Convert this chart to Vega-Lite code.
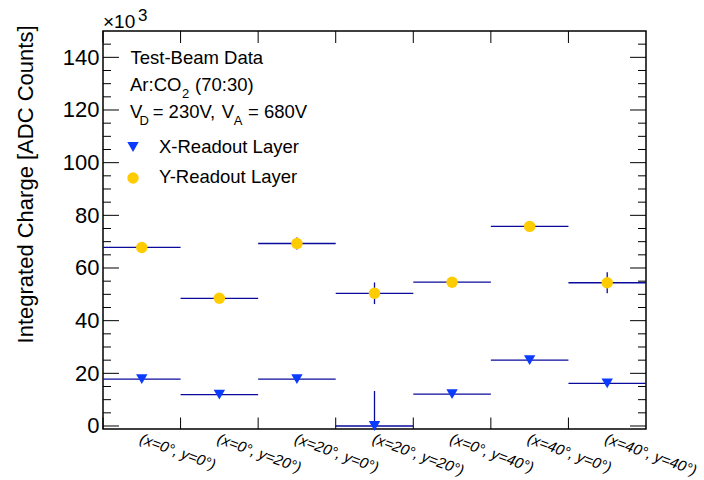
{
  "$schema": "https://vega.github.io/schema/vega-lite/v6.json",
  "width": 543,
  "height": 398,
  "autosize": {"type": "none"},
  "padding": {"left": 103, "top": 31, "right": 58, "bottom": 51},
  "background": "white",
  "config": {
    "font": "Liberation Sans",
    "view": {"stroke": "#000", "strokeWidth": 1.5},
    "axis": {"grid": false, "domain": false, "ticks": false},
    "axisY": {"labelFontSize": 22, "labelColor": "#000", "titleFontSize": 22, "titleColor": "#000", "titleFontWeight": "normal"},
    "axisX": {"labelFontSize": 15, "labelColor": "#000", "labelFontStyle": "italic"}
  },
  "datasets": {
    "charge": [
      {"config": "(x=0°, y=0°)", "layer": "X-Readout Layer", "charge": 17.8, "lo": 16.8, "hi": 18.8},
      {"config": "(x=0°, y=0°)", "layer": "Y-Readout Layer", "charge": 67.8, "lo": 66.6, "hi": 69.0},
      {"config": "(x=0°, y=20°)", "layer": "X-Readout Layer", "charge": 11.9, "lo": 10.9, "hi": 12.9},
      {"config": "(x=0°, y=20°)", "layer": "Y-Readout Layer", "charge": 48.5, "lo": 47.5, "hi": 49.5},
      {"config": "(x=20°, y=0°)", "layer": "X-Readout Layer", "charge": 17.8, "lo": 16.8, "hi": 18.8},
      {"config": "(x=20°, y=0°)", "layer": "Y-Readout Layer", "charge": 69.3, "lo": 67.0, "hi": 71.6},
      {"config": "(x=20°, y=20°)", "layer": "X-Readout Layer", "charge": 0.0, "lo": -13.3, "hi": 13.3},
      {"config": "(x=20°, y=20°)", "layer": "Y-Readout Layer", "charge": 50.4, "lo": 46.3, "hi": 54.5},
      {"config": "(x=0°, y=40°)", "layer": "X-Readout Layer", "charge": 12.1, "lo": 11.1, "hi": 13.1},
      {"config": "(x=0°, y=40°)", "layer": "Y-Readout Layer", "charge": 54.6, "lo": 53.4, "hi": 55.8},
      {"config": "(x=40°, y=0°)", "layer": "X-Readout Layer", "charge": 25.0, "lo": 24.0, "hi": 26.0},
      {"config": "(x=40°, y=0°)", "layer": "Y-Readout Layer", "charge": 75.8, "lo": 74.3, "hi": 77.3},
      {"config": "(x=40°, y=40°)", "layer": "X-Readout Layer", "charge": 16.2, "lo": 15.2, "hi": 17.2},
      {"config": "(x=40°, y=40°)", "layer": "Y-Readout Layer", "charge": 54.4, "lo": 50.4, "hi": 58.4}
    ],
    "ymajor": [{"v": 0}, {"v": 20}, {"v": 40}, {"v": 60}, {"v": 80}, {"v": 100}, {"v": 120}, {"v": 140}],
    "yminor": [{"v": 5}, {"v": 10}, {"v": 15}, {"v": 25}, {"v": 30}, {"v": 35}, {"v": 45}, {"v": 50}, {"v": 55}, {"v": 65}, {"v": 70}, {"v": 75}, {"v": 85}, {"v": 90}, {"v": 95}, {"v": 105}, {"v": 110}, {"v": 115}, {"v": 125}, {"v": 130}, {"v": 135}, {"v": 145}],
    "one": [{"n": 1}]
  },
  "layer": [
    {
      "data": {"name": "charge"},
      "mark": {"type": "rule", "color": "#0a0a9c", "strokeWidth": 1.3},
      "encoding": {
        "x": {"field": "config", "type": "nominal", "bandPosition": 0,
          "scale": {"type": "band", "domain": ["(x=0°, y=0°)", "(x=0°, y=20°)", "(x=20°, y=0°)", "(x=20°, y=20°)", "(x=0°, y=40°)", "(x=40°, y=0°)", "(x=40°, y=40°)"], "paddingInner": 0, "paddingOuter": 0},
          "axis": {"orient": "bottom", "ticks": false, "bandPosition": 0.5, "labelAngle": 20, "labelAlign": "left", "labelBaseline": "top", "labelPadding": 2, "labelOffset": 1, "labelFontSize": 15, "labelFontStyle": "italic", "labelColor": "#000", "labelOverlap": false, "labelBound": false, "labelFlush": false, "labelLimit": 0, "title": null}},
        "x2": {"field": "config", "bandPosition": 1},
        "y": {"field": "charge", "type": "quantitative",
          "scale": {"domain": [-1.14, 150], "nice": false, "zero": false},
          "axis": {"orient": "left", "values": [0, 20, 40, 60, 80, 100, 120, 140], "ticks": false, "labelFontSize": 22, "labelPadding": 4, "labelColor": "#000",
            "title": "Integrated Charge [ADC Counts]", "titleFontSize": 22, "titleFontWeight": "normal", "titleColor": "#000", "titleAngle": -90, "titleAlign": "right", "titleBaseline": "alphabetic", "titleX": -71, "titleY": -6}}
      }
    },
    {
      "data": {"name": "charge"},
      "mark": {"type": "rule", "color": "#0a0a9c", "strokeWidth": 1.3, "clip": true},
      "encoding": {
        "x": {"field": "config", "type": "nominal"},
        "y": {"field": "lo", "type": "quantitative"},
        "y2": {"field": "hi"}
      }
    },
    {
      "data": {"name": "charge"},
      "mark": {"type": "point", "filled": true, "opacity": 1, "size": 130, "strokeWidth": 0},
      "encoding": {
        "x": {"field": "config", "type": "nominal"},
        "y": {"field": "charge", "type": "quantitative"},
        "color": {"field": "layer", "type": "nominal", "scale": {"domain": ["X-Readout Layer", "Y-Readout Layer"], "range": ["#0a3bff", "#ffcc00"]}, "legend": null},
        "shape": {"field": "layer", "type": "nominal", "scale": {"domain": ["X-Readout Layer", "Y-Readout Layer"], "range": ["triangle-down", "circle"]}, "legend": null}
      }
    },
    {
      "data": {"name": "ymajor"},
      "mark": {"type": "rule", "color": "#000", "strokeWidth": 1},
      "encoding": {
        "x": {"datum": "(x=0°, y=0°)", "type": "nominal", "bandPosition": 0},
        "x2": {"datum": "(x=0°, y=0°)", "bandPosition": 0.206},
        "y": {"field": "v", "type": "quantitative"}
      }
    },
    {
      "data": {"name": "yminor"},
      "mark": {"type": "rule", "color": "#000", "strokeWidth": 1},
      "encoding": {
        "x": {"datum": "(x=0°, y=0°)", "type": "nominal", "bandPosition": 0},
        "x2": {"datum": "(x=0°, y=0°)", "bandPosition": 0.103},
        "y": {"field": "v", "type": "quantitative"}
      }
    },
    {
      "data": {"name": "ymajor"},
      "mark": {"type": "rule", "color": "#000", "strokeWidth": 1},
      "encoding": {
        "x": {"datum": "(x=40°, y=40°)", "type": "nominal", "bandPosition": 0.794},
        "x2": {"datum": "(x=40°, y=40°)", "bandPosition": 1},
        "y": {"field": "v", "type": "quantitative"}
      }
    },
    {
      "data": {"name": "yminor"},
      "mark": {"type": "rule", "color": "#000", "strokeWidth": 1},
      "encoding": {
        "x": {"datum": "(x=40°, y=40°)", "type": "nominal", "bandPosition": 0.897},
        "x2": {"datum": "(x=40°, y=40°)", "bandPosition": 1},
        "y": {"field": "v", "type": "quantitative"}
      }
    },
    {
      "data": {"name": "charge"},
      "transform": [{"filter": "datum.layer === 'X-Readout Layer'"}],
      "mark": {"type": "rule", "color": "#000", "strokeWidth": 1},
      "encoding": {
        "x": {"field": "config", "type": "nominal", "bandPosition": 0},
        "y": {"datum": -1.14, "type": "quantitative"},
        "y2": {"datum": 3.23}
      }
    },
    {
      "data": {"name": "charge"},
      "transform": [{"filter": "datum.layer === 'X-Readout Layer'"}],
      "mark": {"type": "rule", "color": "#000", "strokeWidth": 1},
      "encoding": {
        "x": {"field": "config", "type": "nominal", "bandPosition": 0},
        "y": {"datum": 145.44, "type": "quantitative"},
        "y2": {"datum": 150}
      }
    },
    {
      "data": {"name": "one"},
      "mark": {"type": "text", "text": "Test-Beam Data", "align": "left", "baseline": "alphabetic", "fontSize": 18.5, "font": "Liberation Sans", "color": "#000"},
      "encoding": {
        "x": {"datum": "(x=0°, y=0°)", "type": "nominal", "bandPosition": 0.3545},
        "y": {"datum": 137.49, "type": "quantitative"}
      }
    },
    {
      "data": {"name": "one"},
      "mark": {"type": "text", "text": "Ar:CO", "align": "left", "baseline": "alphabetic", "fontSize": 18.5, "font": "Liberation Sans", "color": "#000"},
      "encoding": {
        "x": {"datum": "(x=0°, y=0°)", "type": "nominal", "bandPosition": 0.348},
        "y": {"datum": 127.23, "type": "quantitative"}
      }
    },
    {
      "data": {"name": "one"},
      "mark": {"type": "text", "text": "2", "align": "left", "baseline": "alphabetic", "fontSize": 13, "font": "Liberation Sans", "color": "#000"},
      "encoding": {
        "x": {"datum": "(x=0°, y=20°)", "type": "nominal", "bandPosition": 0.02},
        "y": {"datum": 124.57, "type": "quantitative"}
      }
    },
    {
      "data": {"name": "one"},
      "mark": {"type": "text", "text": "(70:30)", "align": "left", "baseline": "alphabetic", "fontSize": 18.5, "font": "Liberation Sans", "color": "#000"},
      "encoding": {
        "x": {"datum": "(x=0°, y=20°)", "type": "nominal", "bandPosition": 0.186},
        "y": {"datum": 127.23, "type": "quantitative"}
      }
    },
    {
      "data": {"name": "one"},
      "mark": {"type": "text", "text": "V", "align": "left", "baseline": "alphabetic", "fontSize": 18.5, "font": "Liberation Sans", "color": "#000"},
      "encoding": {
        "x": {"datum": "(x=0°, y=0°)", "type": "nominal", "bandPosition": 0.348},
        "y": {"datum": 116.98, "type": "quantitative"}
      }
    },
    {
      "data": {"name": "one"},
      "mark": {"type": "text", "text": "D", "align": "left", "baseline": "alphabetic", "fontSize": 13, "font": "Liberation Sans", "color": "#000"},
      "encoding": {
        "x": {"datum": "(x=0°, y=0°)", "type": "nominal", "bandPosition": 0.47},
        "y": {"datum": 114.32, "type": "quantitative"}
      }
    },
    {
      "data": {"name": "one"},
      "mark": {"type": "text", "text": "= 230V,", "align": "left", "baseline": "alphabetic", "fontSize": 18.5, "font": "Liberation Sans", "color": "#000"},
      "encoding": {
        "x": {"datum": "(x=0°, y=0°)", "type": "nominal", "bandPosition": 0.64},
        "y": {"datum": 116.98, "type": "quantitative"}
      }
    },
    {
      "data": {"name": "one"},
      "mark": {"type": "text", "text": "V", "align": "left", "baseline": "alphabetic", "fontSize": 18.5, "font": "Liberation Sans", "color": "#000"},
      "encoding": {
        "x": {"datum": "(x=0°, y=20°)", "type": "nominal", "bandPosition": 0.53},
        "y": {"datum": 116.98, "type": "quantitative"}
      }
    },
    {
      "data": {"name": "one"},
      "mark": {"type": "text", "text": "A", "align": "left", "baseline": "alphabetic", "fontSize": 13, "font": "Liberation Sans", "color": "#000"},
      "encoding": {
        "x": {"datum": "(x=0°, y=20°)", "type": "nominal", "bandPosition": 0.685},
        "y": {"datum": 114.32, "type": "quantitative"}
      }
    },
    {
      "data": {"name": "one"},
      "mark": {"type": "text", "text": "= 680V", "align": "left", "baseline": "alphabetic", "fontSize": 18.5, "font": "Liberation Sans", "color": "#000"},
      "encoding": {
        "x": {"datum": "(x=0°, y=20°)", "type": "nominal", "bandPosition": 0.87},
        "y": {"datum": 116.98, "type": "quantitative"}
      }
    },
    {
      "data": {"name": "one"},
      "mark": {"type": "point", "filled": true, "opacity": 1, "size": 130, "strokeWidth": 0, "shape": "triangle-down", "color": "#0a3bff"},
      "encoding": {
        "x": {"datum": "(x=0°, y=0°)", "type": "nominal", "bandPosition": 0.387},
        "y": {"datum": 105.96, "type": "quantitative"}
      }
    },
    {
      "data": {"name": "one"},
      "mark": {"type": "point", "filled": true, "opacity": 1, "size": 130, "strokeWidth": 0, "shape": "circle", "color": "#ffcc00"},
      "encoding": {
        "x": {"datum": "(x=0°, y=0°)", "type": "nominal", "bandPosition": 0.387},
        "y": {"datum": 94.19, "type": "quantitative"}
      }
    },
    {
      "data": {"name": "one"},
      "mark": {"type": "text", "text": "X-Readout Layer", "align": "left", "baseline": "alphabetic", "fontSize": 18.5, "font": "Liberation Sans", "color": "#000"},
      "encoding": {
        "x": {"datum": "(x=0°, y=0°)", "type": "nominal", "bandPosition": 0.722},
        "y": {"datum": 103.68, "type": "quantitative"}
      }
    },
    {
      "data": {"name": "one"},
      "mark": {"type": "text", "text": "Y-Readout Layer", "align": "left", "baseline": "alphabetic", "fontSize": 18.5, "font": "Liberation Sans", "color": "#000"},
      "encoding": {
        "x": {"datum": "(x=0°, y=0°)", "type": "nominal", "bandPosition": 0.722},
        "y": {"datum": 92.17, "type": "quantitative"}
      }
    },
    {
      "data": {"name": "one"},
      "mark": {"type": "text", "text": "×10", "align": "left", "baseline": "alphabetic", "fontSize": 19, "font": "Liberation Sans", "color": "#000"},
      "encoding": {
        "x": {"datum": "(x=0°, y=0°)", "type": "nominal", "bandPosition": 0.0},
        "y": {"datum": 151.04, "type": "quantitative"}
      }
    },
    {
      "data": {"name": "one"},
      "mark": {"type": "text", "text": "3", "align": "left", "baseline": "alphabetic", "fontSize": 17, "font": "Liberation Sans", "color": "#000"},
      "encoding": {
        "x": {"datum": "(x=0°, y=0°)", "type": "nominal", "bandPosition": 0.45},
        "y": {"datum": 153.93, "type": "quantitative"}
      }
    }
  ]
}
